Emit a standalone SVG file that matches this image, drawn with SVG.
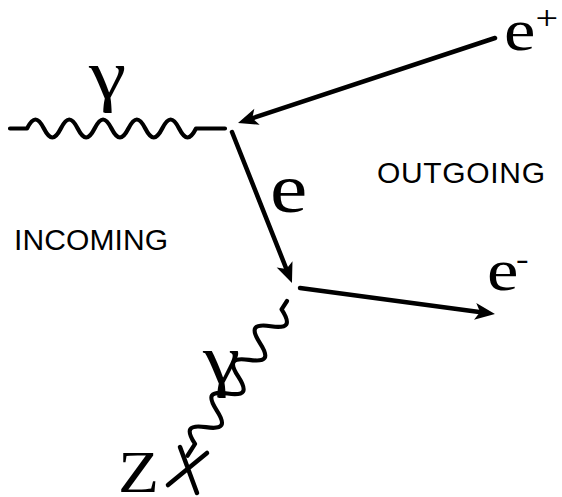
<svg xmlns="http://www.w3.org/2000/svg" width="562" height="497" viewBox="0 0 562 497">
<style>
.ln{fill:none;stroke:#000;stroke-width:4.5;stroke-linecap:round;stroke-linejoin:round}
.ph{fill:none;stroke:#000;stroke-width:4.2;stroke-linecap:round;stroke-linejoin:round}
.sym{font-family:"Liberation Serif","Times New Roman",serif;fill:#000}
.lab{font-family:"Liberation Sans",Arial,sans-serif;font-size:30px;fill:#000}
</style>
<defs>
<marker id="ah" markerUnits="userSpaceOnUse" markerWidth="30" markerHeight="30" refX="0" refY="0" viewBox="-10 -15 30 30" orient="auto">
<path d="M14,0 L-6,-8.5 L-1,0 L-6,8.5 Z" fill="#000"/>
</marker>
</defs>
<rect width="562" height="497" fill="#fff"/>
<g id="connectors">
<path id="photon-top" class="ph" d="M10,128.5 H27 c6.1,-12 10.8,-12 16.9,0 s10.8,12 16.9,0 s10.8,-12 16.9,0 s10.8,12 16.9,0 s10.8,-12 16.9,0 s10.8,12 16.9,0 s10.8,-12 16.9,0 s10.8,12 16.9,0 s10.8,-12 16.9,0 s10.8,12 16.9,0 H225"/>
<path id="positron" class="ln" d="M495,38 L251.3,118.6" marker-end="url(#ah)"/>
<path id="electron-internal" class="ln" d="M232,132 L286.8,270" marker-end="url(#ah)"/>
<path id="electron-out" class="ln" d="M300,288 L481.1,312.2" marker-end="url(#ah)"/>
<g transform="translate(287,301) rotate(122.75)">
<path id="photon-bottom" class="ph" d="M0,0 H10 c7.2,-16 12.8,-16 20,0 s12.8,16 20,0 s12.8,-16 20,0 s12.8,16 20,0 s12.8,-16 20,0 s12.8,16 20,0 s12.8,-16 20,0 s12.8,16 20,0 H184"/>
</g>
</g>
<g id="nucleus">
<path class="ln" d="M180,447 L197,493 M168,485 L207,453"/>
<text class="sym" transform="translate(118,492) scale(1.12,1)" font-size="60">Z</text>
</g>
<g id="gamma-top"><text class="sym" transform="translate(89,98) scale(1.2,1)" font-size="70">γ</text></g>
<g id="gamma-bottom"><text class="sym" transform="translate(203,383) scale(1.2,1)" font-size="70">γ</text></g>
<g id="e-internal"><text class="sym" transform="translate(270,212) scale(1.2,1)" font-size="70">e</text></g>
<g id="e-plus"><text class="sym" transform="translate(504,50) scale(1.18,1)" font-size="60">e<tspan font-size="34" dy="-21">+</tspan></text></g>
<g id="e-minus"><text class="sym" transform="translate(487,290) scale(1.18,1)" font-size="60">e<tspan font-size="32" dx="-2" dy="-21">-</tspan></text></g>
<g id="incoming"><text class="lab" x="14" y="250" textLength="154">INCOMING</text></g>
<g id="outgoing"><text class="lab" x="377" y="183" textLength="168">OUTGOING</text></g>
</svg>
